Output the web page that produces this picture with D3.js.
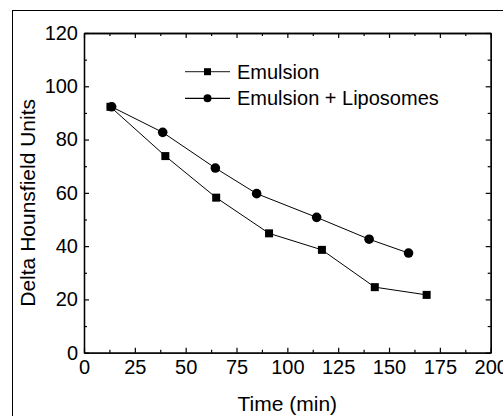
<!DOCTYPE html>
<html>
<head>
<meta charset="utf-8">
<script src="https://cdn.jsdelivr.net/npm/d3@7"></script>
<style>
  html, body { margin: 0; padding: 0; background: #fff; overflow: hidden; }
  svg { display: block; font-family: "Liberation Sans", Arial, sans-serif; }
</style>
</head>
<body>
<div id="chart"></div>
<script>
// Data
const emulsionTime = [13, 40, 65, 91, 117, 143, 168.5];
const emulsionHU   = [92.3, 73.8, 58.2, 44.8, 38.6, 24.6, 21.7];
const liposTime    = [13.6, 38.7, 64.6, 84.9, 114.4, 140.2, 159.6];
const liposHU      = [92.3, 82.7, 69.3, 59.7, 50.8, 42.6, 37.4];
const xTicks = [0, 25, 50, 75, 100, 125, 150, 175, 200];
const yTicks = [0, 20, 40, 60, 80, 100, 120];
const seriesNames = ["Emulsion", "Emulsion + Liposomes"];

const W = 503, H = 416;
const m = { left: 84, top: 33, right: 490.7, bottom: 352.7 };

const svg = d3.select("#chart").append("svg").attr("width", W).attr("height", H);

// outer frame (only left/top visible in the crop)
svg.append("rect")
  .attr("x", 12.5).attr("y", 10.5).attr("width", 600).attr("height", 600)
  .attr("fill", "none").attr("stroke", "#000").attr("stroke-width", 1);

const x = d3.scaleLinear().domain([0, 200]).range([m.left, m.right]);
const y = d3.scaleLinear().domain([0, 120]).range([m.bottom, m.top]);

const xMinor = d3.range(12.5, 200, 25);
const yMinor = d3.range(10, 120, 20);

// axes: ticks pointing inward on all four sides
function styleAxis(g) {
  g.select(".domain").attr("stroke", "#000").attr("stroke-width", 1.3);
  g.selectAll(".tick line").attr("stroke", "#000").attr("stroke-width", 1.2);
}
const fs = 20;

const gB = svg.append("g").attr("transform", `translate(0,${m.bottom})`)
  .call(d3.axisBottom(x).tickValues(xTicks).tickSize(-5).tickPadding(7).tickSizeOuter(0))
  .call(styleAxis);
gB.selectAll("text").attr("font-size", fs).attr("fill", "#000").attr("font-family", "Liberation Sans, Arial, sans-serif");
svg.append("g").attr("transform", `translate(0,${m.bottom})`)
  .call(d3.axisBottom(x).tickValues(xMinor).tickSize(-3).tickFormat("").tickSizeOuter(0))
  .call(styleAxis);

svg.append("g").attr("transform", `translate(0,${m.top})`)
  .call(d3.axisTop(x).tickValues(xTicks).tickSize(-5).tickFormat("").tickSizeOuter(0))
  .call(styleAxis);
svg.append("g").attr("transform", `translate(0,${m.top})`)
  .call(d3.axisTop(x).tickValues(xMinor).tickSize(-3).tickFormat("").tickSizeOuter(0))
  .call(styleAxis);

const gL = svg.append("g").attr("transform", `translate(${m.left},0)`)
  .call(d3.axisLeft(y).tickValues(yTicks).tickSize(-5).tickPadding(6).tickSizeOuter(0))
  .call(styleAxis);
gL.selectAll("text").attr("font-size", fs).attr("fill", "#000").attr("font-family", "Liberation Sans, Arial, sans-serif");
svg.append("g").attr("transform", `translate(${m.left},0)`)
  .call(d3.axisLeft(y).tickValues(yMinor).tickSize(-3).tickFormat("").tickSizeOuter(0))
  .call(styleAxis);

svg.append("g").attr("transform", `translate(${m.right},0)`)
  .call(d3.axisRight(y).tickValues(yTicks).tickSize(-5).tickFormat("").tickSizeOuter(0))
  .call(styleAxis);
svg.append("g").attr("transform", `translate(${m.right},0)`)
  .call(d3.axisRight(y).tickValues(yMinor).tickSize(-3).tickFormat("").tickSizeOuter(0))
  .call(styleAxis);

// axis titles
svg.append("text")
  .attr("x", (m.left + m.right) / 2).attr("y", 411)
  .attr("text-anchor", "middle").attr("font-size", 21).text("Time (min)");
svg.append("text")
  .attr("transform", `translate(35,${(m.top + m.bottom) / 2 + 10}) rotate(-90)`)
  .attr("text-anchor", "middle").attr("font-size", 21).text("Delta Hounsfield Units");

// series
const line = d3.line().x(d => x(d[0])).y(d => y(d[1]));
const emu = emulsionTime.map((t, i) => [t, emulsionHU[i]]);
const lip = liposTime.map((t, i) => [t, liposHU[i]]);

[emu, lip].forEach(pts => {
  svg.append("path").datum(pts).attr("d", line)
    .attr("fill", "none").attr("stroke", "#000").attr("stroke-width", 1);
});

const sq = 8;
svg.append("g").selectAll("rect").data(emu).join("rect")
  .attr("x", d => x(d[0]) - sq / 2).attr("y", d => y(d[1]) - sq / 2)
  .attr("width", sq).attr("height", sq).attr("fill", "#000");
svg.append("g").selectAll("circle").data(lip).join("circle")
  .attr("cx", d => x(d[0])).attr("cy", d => y(d[1])).attr("r", 4.8).attr("fill", "#000");

// legend
const legY = [71.7, 98.3];
seriesNames.forEach((name, i) => {
  const g = svg.append("g");
  g.append("line").attr("x1", 185).attr("x2", 230).attr("y1", legY[i]).attr("y2", legY[i])
    .attr("stroke", i === 0 ? "#444" : "#000").attr("stroke-width", 1.2);
  if (i === 0) {
    g.append("rect").attr("x", 207.5 - 3.5).attr("y", legY[i] - 3.5).attr("width", 7).attr("height", 7).attr("fill", "#000");
  } else {
    g.append("circle").attr("cx", 207.5).attr("cy", legY[i]).attr("r", 4).attr("fill", "#000");
  }
  g.append("text").attr("x", 237).attr("y", legY[i] + 7).attr("font-size", 20).text(name);
});
</script>
</body>
</html>
